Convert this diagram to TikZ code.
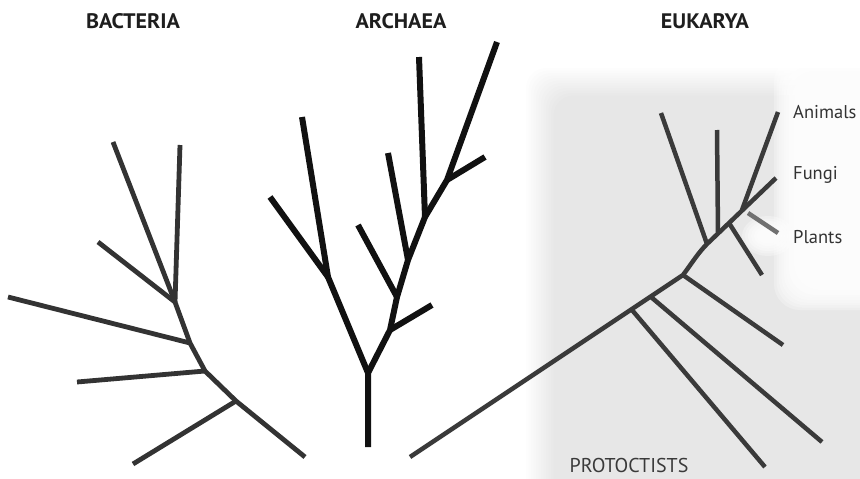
\documentclass[tikz,border=0pt]{standalone}
\usepackage{fontspec}
\setmainfont{PT Sans}
\definecolor{bcol}{HTML}{333333}
\definecolor{acol}{HTML}{111111}
\definecolor{ecol}{HTML}{3A3A3A}
\definecolor{pcol}{HTML}{707070}
\definecolor{tcol}{HTML}{1E1E1E}
\definecolor{lcol}{HTML}{333333}
\begin{document}
\begin{tikzpicture}[x=1pt,y=-1pt,
  bac/.style={draw=bcol, line width=4.8pt, line join=round},
  arc/.style={draw=acol, line width=6pt, line join=round},
  euk/.style={draw=ecol, line width=4.5pt, line join=round},
  plantline/.style={draw=pcol, line width=4.5pt},
  title/.style={font=\fontsize{21}{21}\selectfont\bfseries, text=tcol, inner sep=0pt},
  lab/.style={font=\fontsize{18.5}{18.5}\selectfont, text=lcol, anchor=west, inner sep=0pt},
]
\useasboundingbox (0,0) rectangle (860,479);
% soft grey background behind eukarya
\foreach \k in {0,...,11}
  \fill[black, opacity=0.0065, rounded corners=20pt] ({526+2.5*\k},{68+2.5*\k}) rectangle (900,520);
\foreach \k in {0,...,11}
  \fill[white, opacity=0.25, rounded corners=26pt] ({774+2.5*\k},{56+2.5*\k}) rectangle (900,{310-2.5*\k});
\foreach \k in {0,...,6}
  \fill[white, opacity=0.28] (768,236) ellipse ({26-3*\k} and {20-2.5*\k});

% ---------- BACTERIA ----------
\coordinate (b0) at (175,302);
\coordinate (b1) at (190,343);
\coordinate (b2) at (205,371);
\coordinate (b3) at (236,401);
\coordinate (bend) at (305,457);
\coordinate (bt1) at (113,142);
\coordinate (bt2) at (180,145);
\coordinate (bt3) at (98,242);
\coordinate (bl1) at (8,297);
\coordinate (bl2) at (77,382);
\coordinate (bl3) at (133,464);
\draw[bac] (bt1) -- (b0);
\draw[bac] (bt2) -- (b0);
\draw[bac] (bt3) -- (b0);
\draw[bac] (b0) -- (b1) -- (b2) -- (b3) -- (bend);
\draw[bac] (bl1) -- (b1);
\draw[bac] (bl2) -- (b2);
\draw[bac] (bl3) -- (b3);

% ---------- ARCHAEA ----------
\coordinate (a0) at (368,447);
\coordinate (af) at (368,373);
\coordinate (l1) at (328,277);
\coordinate (ltop) at (302,117);
\coordinate (lb) at (270,197);
\coordinate (r1) at (390,330);
\coordinate (r2) at (397,297);
\coordinate (r3) at (408,260);
\coordinate (r4) at (425,217);
\coordinate (r5) at (447,180);
\coordinate (rtop) at (497,42);
\coordinate (r1e) at (432,305);
\coordinate (r2e) at (358,225);
\coordinate (r3e) at (388,153);
\coordinate (r4e) at (419,57);
\coordinate (r5e) at (485,157);
\draw[arc] (a0) -- (af) -- (l1) -- (ltop);
\draw[arc] (lb) -- (l1);
\draw[arc] (af) -- (r1) -- (r2) -- (r3) -- (r4) -- (r5) -- (rtop);
\draw[arc] (r1) -- (r1e);
\draw[arc] (r2) -- (r2e);
\draw[arc] (r3) -- (r3e);
\draw[arc] (r4) -- (r4e);
\draw[arc] (r5) -- (r5e);

% ---------- EUKARYA ----------
\coordinate (e0) at (410,457);
\coordinate (j1) at (632,310);
\coordinate (j2) at (651,297);
\coordinate (j3) at (683,275);
\coordinate (j4) at (707,244);
\coordinate (j5) at (718,233);
\coordinate (j6) at (729,223);
\coordinate (j7) at (742,210);
\coordinate (etop) at (776,178);
\coordinate (j1e) at (765,467);
\coordinate (j2e) at (822,442);
\coordinate (j3e) at (783,345);
\coordinate (j4e) at (661,113);
\coordinate (j5e) at (717,130);
\coordinate (j6e) at (762,275);
\coordinate (j7e) at (778,112);
\coordinate (p0) at (748,213);
\coordinate (p1) at (778,233);
\draw[euk] (e0) -- (j3) .. controls (692,263) and (698,253) .. (j4) -- (j6) -- (etop);
\draw[euk] (j1) -- (j1e);
\draw[euk] (j2) -- (j2e);
\draw[euk] (j3) -- (j3e);
\draw[euk] (j4) -- (j4e);
\draw[euk] (j5) -- (j5e);
\draw[euk] (j6) -- (j6e);
\draw[euk] (j7) -- (j7e);
\draw[plantline] (p0) -- (p1);

% ---------- TEXT ----------
\node[title] (tb) at (133,21) {\scalebox{1.05}[1]{BACTERIA}};
\node[title] (ta) at (401,21) {\scalebox{1.05}[1]{ARCHAEA}};
\node[title] (te) at (705,21) {\scalebox{1.05}[1]{EUKARYA}};
\node[lab] (la) at (793,112) {Animals};
\node[lab] (lf) at (793,175) {Fungi};
\node[lab] (lp) at (793,237) {Plants};
\node[font=\fontsize{20}{20}\selectfont, text=ecol, inner sep=0pt] (lpr) at (629,465) {PROTOCTISTS};
\end{tikzpicture}
\end{document}
